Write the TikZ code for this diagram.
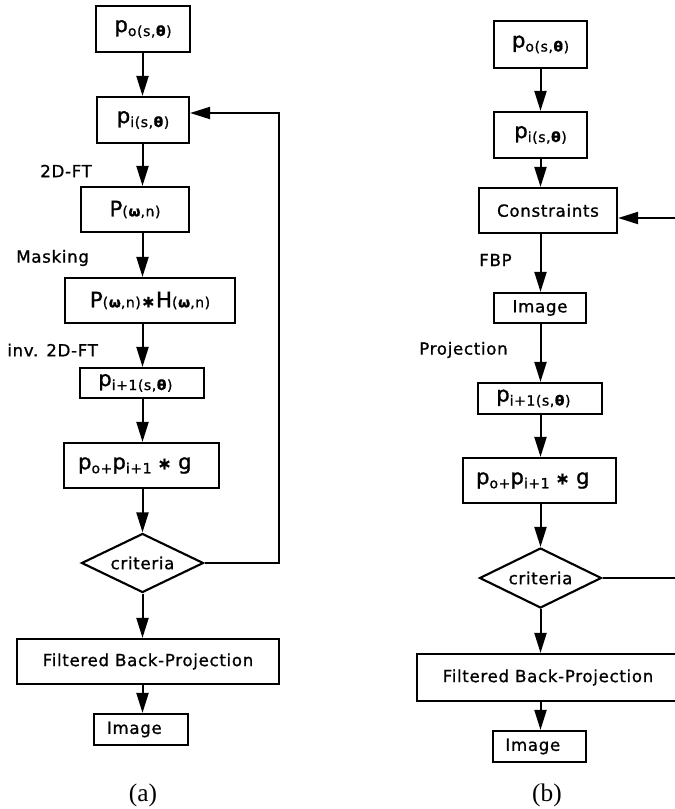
\documentclass[tikz,border=0pt]{standalone}
\usepackage{fontspec}
\setmainfont{DejaVu Sans}[LetterSpace=4,FakeBold=1]
\newfontfamily\capfont{Liberation Serif}
\usetikzlibrary{arrows.meta,shapes.geometric}
\newcommand\lo[1]{\raisebox{-3pt}{\fontsize{10.5}{12}\selectfont #1}}
\newcommand\sm[1]{{\fontsize{10.5}{12}\selectfont #1}}
\newcommand\bg[1]{{\fontsize{16}{18}\selectfont #1}}
\newcommand\shl{\kern10pt}
\begin{document}
\begin{tikzpicture}[x=0.75pt,y=-0.75pt,
  box/.style={draw,line width=1.6pt,inner sep=0pt,align=center,font=\fontsize{12.5}{14}\selectfont},
  dia/.style={diamond,draw,line width=1.6pt,inner sep=0pt,aspect=2,font=\fontsize{12.5}{14}\selectfont},
  arr/.style={line width=1.5pt,-{Triangle[length=15pt,width=9pt]}},
  lab/.style={anchor=west,inner sep=0pt,font=\fontsize{12.5}{14}\selectfont},
  capt/.style={inner sep=0pt,font=\capfont\fontsize{19}{21}\selectfont}]
\useasboundingbox (0,0) rectangle (674,809);
% ---------- (a) ----------
\node[box,minimum width=70.5pt,minimum height=34.5pt] (a0) at (143,29) {\bg{p}\lo{o(s,\textbf{θ})}};
\node[box,minimum width=69pt,minimum height=34.5pt] (a1) at (143,120) {\bg{p}\lo{i(s,\textbf{θ})}};
\node[box,minimum width=81pt,minimum height=33.75pt] (a2) at (135,209.5) {\bg{P}\sm{(\textbf{ω},n)}};
\node[box,minimum width=127.5pt,minimum height=33.75pt] (a3) at (150,300.5) {\bg{P}\sm{(\textbf{ω},n)}\textbf{∗}\bg{H}\sm{(\textbf{ω},n)}};
\node[box,minimum width=93pt,minimum height=22.5pt] (a4) at (142,383) {\bg{p}\lo{i+1(s,\textbf{θ})}\shl};
\node[box,minimum width=116.25pt,minimum height=33.75pt] (a5) at (141.5,465.5) {\bg{p}\lo{o+}\bg{p}\lo{i+1} \textbf{∗} \bg{g}\shl};
\node[dia,minimum width=91.5pt,minimum height=44.25pt] (a6) at (142.5,563) {criteria};
\node[box,minimum width=196.5pt,minimum height=33.75pt] (a7) at (148,661.5) {Filtered Back-Projection};
\node[box,minimum width=70.5pt,minimum height=23.25pt] (a8) at (141,729.5) {Image\shl};
\node[capt] (ca) at (143,795) {(a)};
\node[lab] (l1) at (40,171) {2D-FT};
\node[lab] (l2) at (16,258) {Masking};
\node[lab] (l3) at (7,350) {inv. 2D-FT};
\coordinate (ax) at (142.5,0);
\draw[arr] (a0.south -| ax) -- (a1.north -| ax);
\draw[arr] (a1.south -| ax) -- (a2.north -| ax);
\draw[arr] (a2.south -| ax) -- (a3.north -| ax);
\draw[arr] (a3.south -| ax) -- (a4.north -| ax);
\draw[arr] (a4.south -| ax) -- (a5.north -| ax);
\draw[arr] (a5.south -| ax) -- (a6.north);
\draw[arr] (a6.south) -- (a7.north -| ax);
\draw[arr] (a7.south -| ax) -- (a8.north -| ax);
\coordinate (fa) at (279,113);
\draw[arr] (a6.east) -- (a6.east -| fa) -- (fa) -- (a1.east |- fa);
% ---------- (b) ----------
\node[box,minimum width=69.75pt,minimum height=35.25pt] (b0) at (540.5,44.5) {\bg{p}\lo{o(s,\textbf{θ})}};
\node[box,minimum width=69.75pt,minimum height=34.5pt] (b1) at (540.5,135) {\bg{p}\lo{i(s,\textbf{θ})}};
\node[box,minimum width=103.5pt,minimum height=33.75pt] (b2) at (548,210.5) {Constraints};
\node[box,minimum width=69pt,minimum height=22.5pt] (b3) at (540,308) {Image};
\node[box,minimum width=93pt,minimum height=23.25pt] (b4) at (540,398.5) {\bg{p}\lo{i+1(s,\textbf{θ})}\shl};
\node[box,minimum width=114.75pt,minimum height=33.75pt] (b5) at (539.5,480.5) {\bg{p}\lo{o+}\bg{p}\lo{i+1} \textbf{∗} \bg{g}\shl};
\node[dia,minimum width=91.5pt,minimum height=45pt] (b6) at (540.5,578) {criteria};
\node[box,minimum width=196.5pt,minimum height=35.25pt] (b7) at (548,677.5) {Filtered Back-Projection};
\node[box,minimum width=69.75pt,minimum height=23.25pt] (b8) at (539.5,746.5) {Image\shl};
\node[capt] (cb) at (547,795) {(b)};
\node[lab] (l4) at (479,260) {FBP};
\node[lab] (l5) at (419,350) {Projection};
\coordinate (bx) at (540.5,0);
\draw[arr] (b0.south -| bx) -- (b1.north -| bx);
\draw[arr] (b1.south -| bx) -- (b2.north -| bx);
\draw[arr] (b2.south -| bx) -- (b3.north -| bx);
\draw[arr] (b3.south -| bx) -- (b4.north -| bx);
\draw[arr] (b4.south -| bx) -- (b5.north -| bx);
\draw[arr] (b5.south -| bx) -- (b6.north);
\draw[arr] (b6.south) -- (b7.north -| bx);
\draw[arr] (b7.south -| bx) -- (b8.north -| bx);
\coordinate (fb) at (684,218);
\draw[arr] (b6.east) -- (b6.east -| fb) -- (fb) -- (b2.east |- fb);
\end{tikzpicture}
\end{document}
